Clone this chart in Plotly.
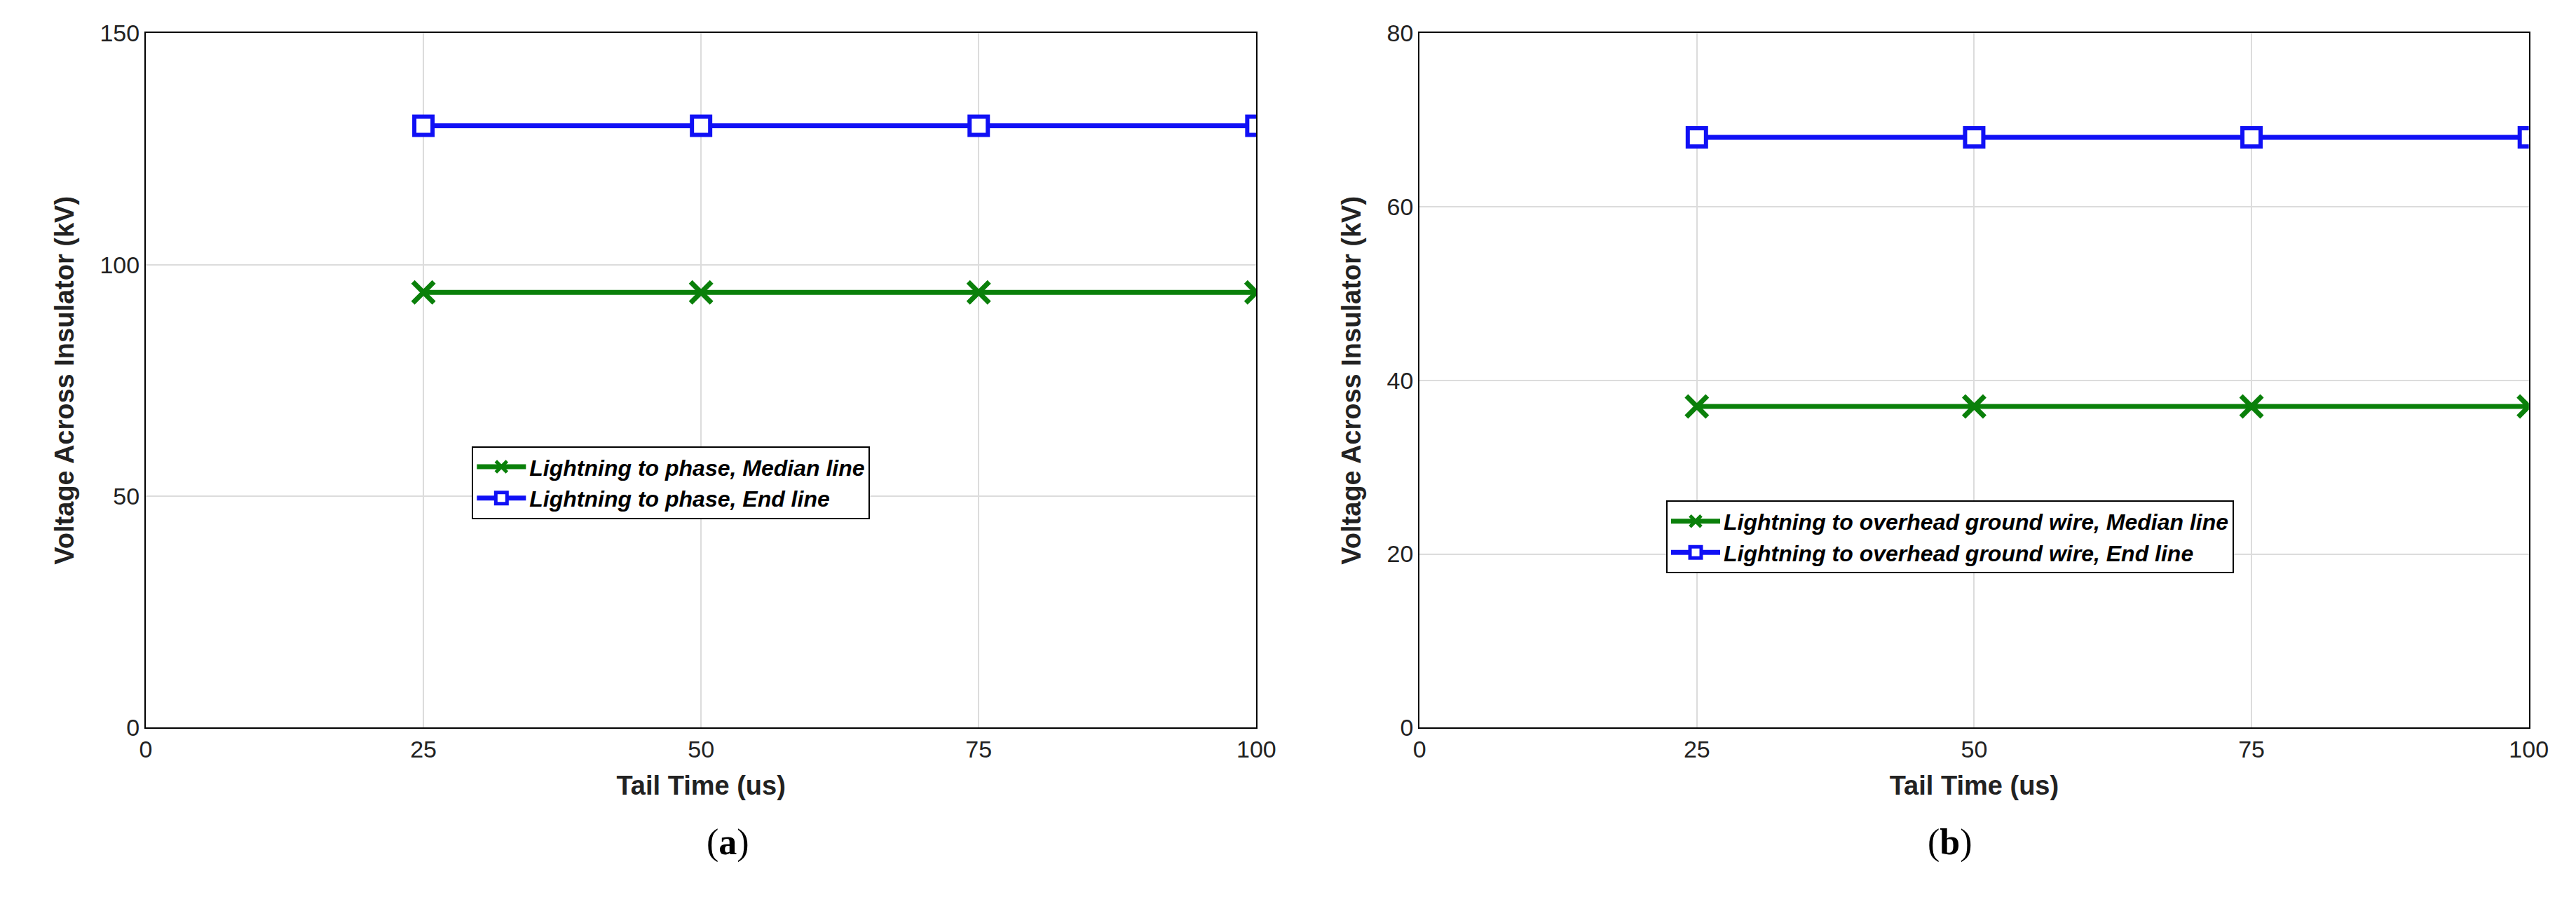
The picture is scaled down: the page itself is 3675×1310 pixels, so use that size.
import plotly.graph_objects as go

tail_time = [25, 50, 75, 100]
a_median = [94, 94, 94, 94]
a_end = [130, 130, 130, 130]
b_median = [37, 37, 37, 37]
b_end = [68, 68, 68, 68]
x_ticks = [0, 25, 50, 75, 100]
a_yticks = [0, 50, 100, 150]
b_yticks = [0, 20, 40, 60, 80]

GREEN = "#0a800a"
BLUE = "#1010f5"
fig = go.Figure()
def add(x, y, name, color, sym, xa, ya, lg):
    fig.add_trace(go.Scatter(x=x, y=y, name=name, mode="lines+markers", xaxis=xa, yaxis=ya,
        legend=lg, line=dict(color=color, width=7),
        marker=dict(symbol=sym, size=30 if sym == "x-thin" else 26,
                    color=color if sym == "x-thin" else "white",
                    line=dict(color=color, width=7 if sym == "x-thin" else 6))))
add(tail_time, a_median, "Lightning to phase, Median line", GREEN, "x-thin", "x", "y", "legend")
add(tail_time, a_end, "Lightning to phase, End line", BLUE, "square", "x", "y", "legend")
add(tail_time, b_median, "Lightning to overhead ground wire, Median line", GREEN, "x-thin", "x2", "y2", "legend2")
add(tail_time, b_end, "Lightning to overhead ground wire, End line", BLUE, "square", "x2", "y2", "legend2")

font = dict(family="Liberation Sans", size=34, color="#222")
ax = dict(showline=True, linecolor="black", linewidth=2, mirror=True, ticks="outside",
          ticklen=0, showgrid=True, gridcolor="#dcdcdc", gridwidth=2, zeroline=False,
          tickfont=font)
tfont = dict(family="Liberation Sans", size=38, color="#222")
leg = dict(bgcolor="white", bordercolor="black", borderwidth=2, xanchor="left", yanchor="top",
           font=dict(family="Liberation Sans", size=32, color="black", style="italic", weight="bold"),
           itemwidth=70)
fig.update_layout(
    width=3675, height=1310, margin=dict(l=0, r=0, t=0, b=0),
    paper_bgcolor="white", plot_bgcolor="white", showlegend=True,
    xaxis=dict(ax, domain=[0.0525, 0.488], range=[0, 100], tickvals=x_ticks,
               title=dict(text="<b>Tail Time (us)</b>", font=tfont, standoff=20)),
    yaxis=dict(ax, domain=[0.205, 0.984], range=[0, 150], tickvals=a_yticks,
               title=dict(text="<b>Voltage Across Insulator (kV)</b>", font=tfont, standoff=25)),
    xaxis2=dict(ax, domain=[0.552, 0.987], range=[0, 100], tickvals=x_ticks, anchor="y2",
                title=dict(text="<b>Tail Time (us)</b>", font=tfont, standoff=20)),
    yaxis2=dict(ax, domain=[0.205, 0.984], range=[0, 80], tickvals=b_yticks, anchor="x2",
                title=dict(text="<b>Voltage Across Insulator (kV)</b>", font=tfont, standoff=25)),
    legend=dict(leg, x=663/3675, y=1-628/1310),
    legend2=dict(leg, x=2384/3675, y=1-708/1310),
)
for t, xp in [("(<b>a</b>)", 999/3675), ("(<b>b</b>)", 2827/3675)]:
    fig.add_annotation(text=t, x=xp, y=1-1242/1310, xref="paper", yref="paper", showarrow=False,
                       font=dict(family="Liberation Serif", size=52, color="black"))
fig.write_html("out.html")
